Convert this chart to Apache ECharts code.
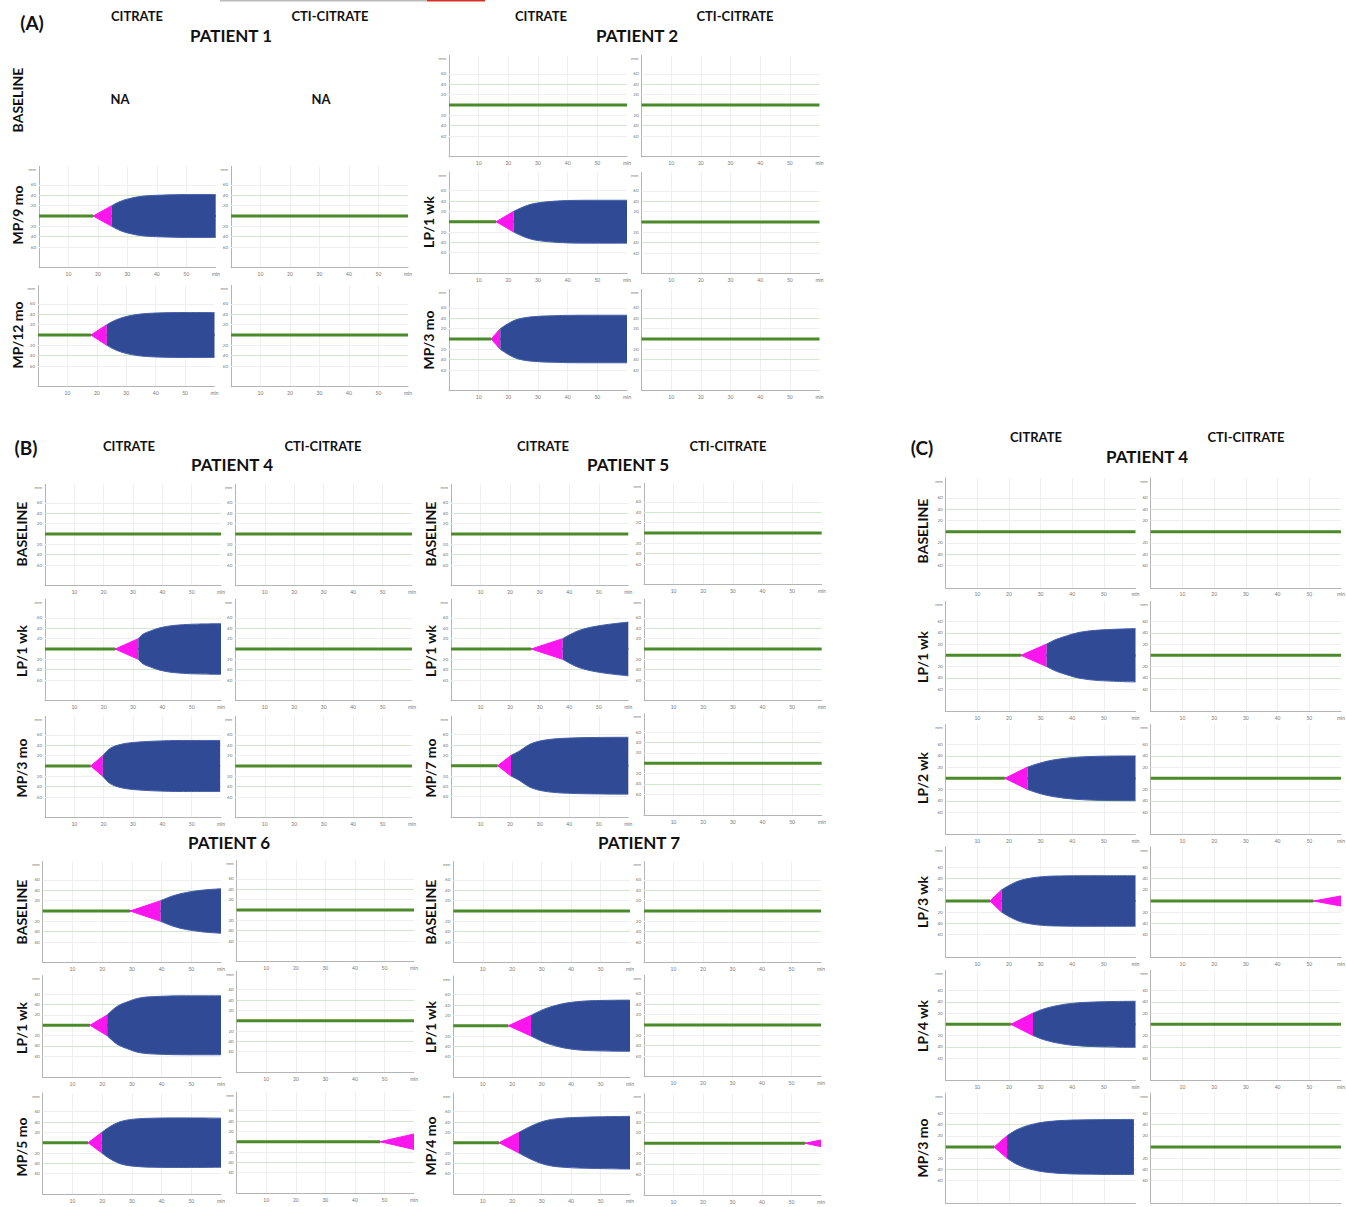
<!DOCTYPE html>
<html><head><meta charset="utf-8">
<script src="https://cdn.jsdelivr.net/npm/echarts@6/dist/echarts.min.js"></script>
<style>html,body{margin:0;padding:0;background:#fff}#c{width:1346px;height:1207px}</style>
</head><body><div id="c"></div>
<script>
// ================= DATA =================
// axis ticks
const xTickValues = [10, 20, 30, 40, 50, 60];
const xTickLabels = ['10', '20', '30', '40', '50', 'min'];
const yTickValues = [-60, -40, -20, 20, 40, 60, 90];
const yTickLabels = ['60', '40', '20', '20', '40', '60', 'mm'];
const K_AMPLITUDE = 20;           // amplitude (mm) at end of clot formation (pink)
const FLAT = null;                // no clot formation within run time

// traces: ct = clotting time (min), k = end of pink phase (min),
// amp = [time (min), half amplitude (mm)]
const P1_MP9_CIT  = { ct: 18.4, k: 24.7, amp: [[27.5,28],[30.9,34],[35.4,38.5],[42.2,40.5],[50,41.5],[60,41.5]] };
const P1_MP12_CIT = { ct: 18.0, k: 23.4, amp: [[26,28],[29.5,35],[34,40],[40,42.5],[50,43.5],[60,43.5]] };
const P2_LP1_CIT  = { ct: 15.9, k: 21.8, amp: [[25.2,29],[28.6,35],[33.1,38.5],[39.9,41],[50,41.5],[60,41.5]] };
const P2_MP3_CIT  = { ct: 14.2, k: 17.3, amp: [[20,30],[23,38],[28,43],[35,45],[45,46],[60,46]] };
const P4_LP1_CIT  = { ct: 23.9, k: 31.8, amp: [[33.5,29],[35.8,34.5],[39.2,41],[43.7,45.5],[50.6,48],[60,49]] };
const P4_MP3_CIT  = { ct: 15.6, k: 19.7, amp: [[22.2,34],[25.6,41.5],[30.1,45.5],[36.9,48],[47.2,49.4],[59.7,49.4]] };
const P5_LP1_CIT  = { ct: 27.1, k: 37.8, amp: [[40.3,28],[43.6,36.5],[48.1,43],[53.8,48],[60,52]] };
const P5_MP7_CIT  = { ct: 15.8, k: 20.3, amp: [[23.3,29],[26.7,41.5],[31.2,49],[38,53],[48.1,54.5],[60,55]] };
const P6_BL_CIT   = { ct: 29.4, k: 39.7, amp: [[43.9,29.5],[48.5,36],[54,40.5],[60,43]] };
const P6_LP1_CIT  = { ct: 15.9, k: 21.7, amp: [[24.9,36],[28.3,45],[32.7,53],[39.5,56],[48.5,57],[60,57]] };
const P6_MP5_CIT  = { ct: 15.3, k: 19.9, amp: [[22.6,31],[26,40.5],[30.5,45.5],[37.2,47.5],[48.5,48],[60,47.5]] };
const P6_MP5_CTI  = { ct: 48.5, end: 60, endAmp: 15 };
const P7_LP1_CIT  = { ct: 18.7, k: 26.4, amp: [[30.6,31.5],[34,38],[38.5,44],[45.3,48],[60,49.5]] };
const P7_MP4_CIT  = { ct: 15.5, k: 22.3, amp: [[26,31],[30.6,41.5],[36.2,47],[45.3,49.5],[60,51]] };
const P7_MP4_CTI  = { ct: 54.6, end: 60, endAmp: 6.5 };
const C_LP1_CIT   = { ct: 23.8, k: 31.9, amp: [[35,28.5],[38.2,34.5],[42.4,41],[48.7,45],[60,47.5]] };
const C_LP2_CIT   = { ct: 18.7, k: 25.9, amp: [[29.7,27],[33.9,32.5],[40.3,37],[48.7,39.3],[60,39.8]] };
const C_LP3_CIT   = { ct: 14.0, k: 17.7, amp: [[20.3,28.5],[23.4,36.3],[28.7,42.3],[36,44.6],[48.7,45],[60,45]] };
const C_LP3_CTI   = { ct: 51.3, end: 60, endAmp: 9 };
const C_LP4_CIT   = { ct: 20.6, k: 27.6, amp: [[30.8,27],[35,33],[40.3,37.5],[48.7,40],[60,41]] };
const C_MP3_CIT   = { ct: 15.3, k: 19.4, amp: [[22.4,30.5],[26.6,39.3],[31.9,45],[40.3,48],[59.5,49]] };

// ================= LAYOUT =================
const SA = 0.517, SC = 0.562;
const panels = [
  // (A) patient 1
  {x0:39, x60:215.7, cy:216, s:SA, tr:P1_MP9_CIT},
  {x0:38, x60:214.5, cy:335, s:SA, tr:P1_MP12_CIT},
  {x0:231, x60:408, cy:216, s:SA, tr:FLAT},
  {x0:231, x60:408, cy:335, s:SA, tr:FLAT},
  // (A) patient 2
  {x0:449, x60:627, cy:105, s:SA, tr:FLAT},
  {x0:449, x60:627, cy:221.7, s:SA, tr:P2_LP1_CIT},
  {x0:449, x60:627, cy:339, s:SA, tr:P2_MP3_CIT},
  {x0:641.5, x60:819.5, cy:105, s:SA, tr:FLAT},
  {x0:641.5, x60:819.5, cy:222, s:SA, tr:FLAT},
  {x0:641.5, x60:819.5, cy:339, s:SA, tr:FLAT},
  // (B) patient 4
  {x0:45, x60:221, cy:534, s:SA, tr:FLAT},
  {x0:45, x60:221, cy:649, s:SA, tr:P4_LP1_CIT},
  {x0:45, x60:221, cy:766, s:SA, tr:P4_MP3_CIT},
  {x0:235.3, x60:412, cy:534, s:SA, tr:FLAT},
  {x0:235.3, x60:412, cy:649, s:SA, tr:FLAT},
  {x0:235.3, x60:412, cy:766, s:SA, tr:FLAT},
  // (B) patient 5
  {x0:451, x60:628.3, cy:534, s:SA, tr:FLAT},
  {x0:451, x60:628.3, cy:649, s:SA, tr:P5_LP1_CIT},
  {x0:451, x60:628.3, cy:765.7, s:SA, tr:P5_MP7_CIT},
  {x0:644, x60:821.7, cy:533, s:SA, tr:FLAT},
  {x0:644, x60:821.7, cy:649, s:SA, tr:FLAT},
  {x0:644, x60:821.7, cy:763.3, s:SA, tr:FLAT},
  // (B) patient 6
  {x0:42.7, x60:221, cy:911, s:SA, tr:P6_BL_CIT},
  {x0:42.7, x60:221, cy:1025.3, s:SA, tr:P6_LP1_CIT},
  {x0:42.7, x60:221, cy:1142.7, s:SA, tr:P6_MP5_CIT},
  {x0:236.7, x60:414, cy:910, s:SA, tr:FLAT},
  {x0:236.7, x60:414, cy:1020.7, s:SA, tr:FLAT},
  {x0:236.7, x60:414, cy:1141.7, s:SA, tr:P6_MP5_CTI},
  // (B) patient 7
  {x0:453.3, x60:630, cy:911, s:SA, tr:FLAT},
  {x0:453.3, x60:630, cy:1025.7, s:SA, tr:P7_LP1_CIT},
  {x0:453.3, x60:630, cy:1142.7, s:SA, tr:P7_MP4_CIT},
  {x0:644, x60:821, cy:911, s:SA, tr:FLAT},
  {x0:644, x60:821, cy:1025, s:SA, tr:FLAT},
  {x0:644, x60:821, cy:1143.3, s:SA, tr:P7_MP4_CTI},
  // (C) patient 4
  {x0:945.7, x60:1135.5, cy:531.7, s:SC, tr:FLAT},
  {x0:945.7, x60:1135.5, cy:655.3, s:SC, tr:C_LP1_CIT},
  {x0:945.7, x60:1135.5, cy:778.3, s:SC, tr:C_LP2_CIT},
  {x0:945.7, x60:1135.5, cy:901, s:SC, tr:C_LP3_CIT},
  {x0:945.7, x60:1135.5, cy:1024.3, s:SC, tr:C_LP4_CIT},
  {x0:945.7, x60:1135.5, cy:1147, s:SC, tr:C_MP3_CIT},
  {x0:1150.7, x60:1341, cy:531.7, s:SC, tr:FLAT},
  {x0:1150.7, x60:1341, cy:655.3, s:SC, tr:FLAT},
  {x0:1150.7, x60:1341, cy:778.3, s:SC, tr:FLAT},
  {x0:1150.7, x60:1341, cy:901, s:SC, tr:C_LP3_CTI},
  {x0:1150.7, x60:1341, cy:1024.3, s:SC, tr:FLAT},
  {x0:1150.7, x60:1341, cy:1147, s:SC, tr:FLAT}
];

const texts = [
  ['(A)',32,22,19,0], ['CITRATE',137,16,13,0], ['CTI-CITRATE',330,16,13,0], ['PATIENT 1',231,35,17,0],
  ['CITRATE',541,16,13,0], ['CTI-CITRATE',735,16,13,0], ['PATIENT 2',637,35,17,0],
  ['NA',120,99,13,0], ['NA',321,99,13,0],
  ['BASELINE',17,100,14,1], ['MP/9 mo',17,215,14,1], ['MP/12 mo',17,335,14,1],
  ['LP/1 wk',428,222,14,1], ['MP/3 mo',428,340,14,1],
  ['(B)',26,447,19,0], ['CITRATE',129,446,13,0], ['CTI-CITRATE',323,446,13,0], ['PATIENT 4',232,464,17,0],
  ['CITRATE',543,446,13,0], ['CTI-CITRATE',728,446,13,0], ['PATIENT 5',628,464,17,0],
  ['PATIENT 6',229,842,17,0], ['PATIENT 7',639,842,17,0],
  ['BASELINE',21,534,14,1], ['LP/1 wk',21,651,14,1], ['MP/3 mo',21,768,14,1],
  ['BASELINE',430,534,14,1], ['LP/1 wk',430,651,14,1], ['MP/7 mo',430,768,14,1],
  ['BASELINE',21,912,14,1], ['LP/1 wk',21,1028,14,1], ['MP/5 mo',21,1147,14,1],
  ['BASELINE',430,912,14,1], ['LP/1 wk',430,1027,14,1], ['MP/4 mo',430,1146,14,1],
  ['(C)',922,447,19,0], ['CITRATE',1036,437,13,0], ['CTI-CITRATE',1246,437,13,0], ['PATIENT 4',1147,456,17,0],
  ['BASELINE',922,531,14,1], ['LP/1 wk',922,657,14,1], ['LP/2 wk',922,778,14,1],
  ['LP/3 wk',922,902,14,1], ['LP/4 wk',922,1026,14,1], ['MP/3 mo',922,1148,14,1]
];

// ================= STYLE =================
const GREEN = '#4a8a28', PINK = '#fb16ee', BLUE = '#304a96';
const AXIS = '#b4b4b4', GRID_GREY = '#efefef', GRID_GREEN = '#d2e8cc';

const grids = [], xAxes = [], yAxes = [], series = [];
panels.forEach((p, i) => {
  grids.push({ left: p.x0, top: p.cy - 96 * p.s, width: p.x60 - p.x0, height: 196 * p.s,
               outerBoundsMode: 'none', containLabel: false });
  xAxes.push({ type: 'value', gridIndex: i, min: 0, max: 60, interval: 10,
    axisLine: { show: true, onZero: false, lineStyle: { color: AXIS, width: 1 } },
    axisTick: { show: false },
    axisLabel: { fontSize: 5, color: '#777', margin: 4, fontFamily: 'Lato',
      formatter: v => { const j = xTickValues.indexOf(v); return j < 0 ? '' : xTickLabels[j]; } },
    splitLine: { show: true, showMinLine: false, showMaxLine: false, lineStyle: { color: GRID_GREY, width: 1 } } });
  yAxes.push({ type: 'value', gridIndex: i, min: -100, max: 96, interval: 10,
    axisLine: { show: true, onZero: false, lineStyle: { color: AXIS, width: 1 } },
    axisTick: { show: false },
    axisLabel: { fontSize: 4.5, color: '#777', margin: 3, fontFamily: 'Lato', showMaxLabel: false,
      formatter: v => { const j = yTickValues.indexOf(v); return j < 0 ? '' : yTickLabels[j]; } },
    splitLine: { show: false } });

  const tr = p.tr;
  const base = { xAxisIndex: i, yAxisIndex: i, symbol: 'none', silent: true, animation: false };
  series.push(Object.assign({}, base, {
    type: 'line', z: 2,
    data: tr ? [[0, 0], [tr.ct, 0]] : [[0, 0], [60, 0]],
    lineStyle: { color: GREEN, width: 3 },
    markLine: { silent: true, symbol: 'none', z: 1, label: { show: false }, animation: false,
      data: [-60, -40, -20, 20, 40, 60].map(v => ({ yAxis: v,
        lineStyle: { color: Math.abs(v) === 40 ? GRID_GREEN : GRID_GREY, width: 1, type: 'solid' } })) }
  }));
  if (!tr) return;
  const pinkEnd = tr.k !== undefined ? [tr.k, K_AMPLITUDE] : [tr.end, tr.endAmp];
  [1, -1].forEach(sg => {
    series.push(Object.assign({}, base, {
      type: 'line', z: 3,
      data: [[tr.ct, 0], [pinkEnd[0], sg * pinkEnd[1]]],
      lineStyle: { color: PINK, width: 1 }, areaStyle: { color: PINK, opacity: 1, origin: -sg * 1.5 }
    }));
  });
  if (tr.k === undefined) return;
  [1, -1].forEach(sg => {
    series.push(Object.assign({}, base, {
      type: 'line', z: 4, smooth: 0.35,
      data: [[tr.k, sg * K_AMPLITUDE]].concat(tr.amp.map(d => [d[0], sg * d[1]])),
      lineStyle: { color: '#4660a8', width: 1 }, areaStyle: { color: BLUE, opacity: 1, origin: -sg * 2 }
    }));
  });
});

const graphics = texts.map(t => ({
  type: 'text', x: t[1], y: t[2], rotation: t[4] ? Math.PI / 2 : 0, silent: true,
  style: { text: t[0], font: 'bold ' + t[3] + 'px Lato', fill: '#111', align: 'center', verticalAlign: 'middle' }
}));
graphics.push({ type: 'rect', shape: { x: 220, y: 0, width: 207, height: 1.5 }, style: { fill: '#bbbbbb' }, silent: true });
graphics.push({ type: 'rect', shape: { x: 427, y: 0, width: 58, height: 1.5 }, style: { fill: '#d83020' }, silent: true });

const chart = echarts.init(document.getElementById('c'), null, { renderer: 'svg' });
chart.setOption({
  animation: false, backgroundColor: '#ffffff',
  grid: grids, xAxis: xAxes, yAxis: yAxes, series: series, graphic: graphics
});
</script></body></html>
